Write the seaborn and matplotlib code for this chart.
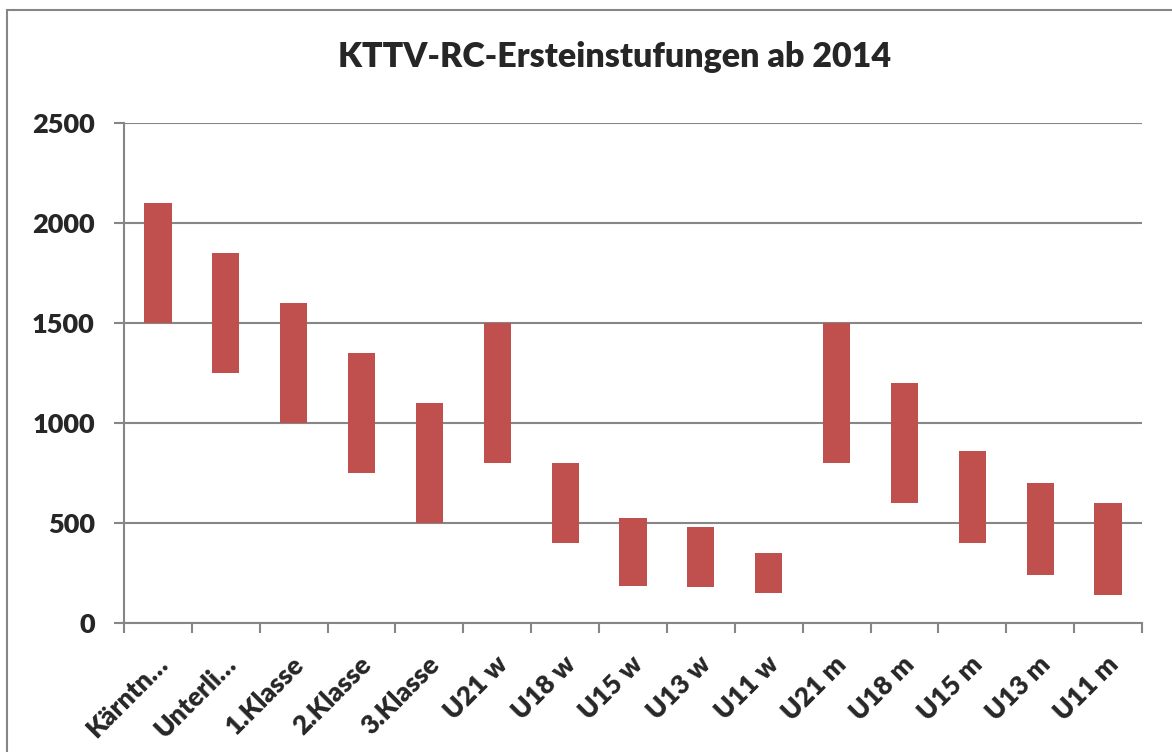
import numpy as np
import matplotlib
matplotlib.use("Agg")
import matplotlib.pyplot as plt
import matplotlib.transforms as mtrans
from matplotlib.patches import Rectangle
import pandas as pd
import seaborn as sns

categories = ["Kärntn…", "Unterli…", "1.Klasse", "2.Klasse", "3.Klasse",
              "U21 w", "U18 w", "U15 w", "U13 w", "U11 w",
              "U21 m", "U18 m", "U15 m", "U13 m", "U11 m"]
low = [1500, 1250, 1000, 750, 500, 800, 400, 185, 180, 150, 800, 600, 400, 240, 140]
high = [2100, 1850, 1600, 1350, 1100, 1500, 800, 525, 480, 350, 1500, 1200, 860, 700, 600]
yticks = [0, 500, 1000, 1500, 2000, 2500]

df = pd.DataFrame({"kat": categories, "low": low, "high": high})
df["span"] = df["high"] - df["low"]

sns.set_style("white")
plt.rcParams["font.family"] = ["Lato", "DejaVu Sans"]
grey = "#868686"

fig = plt.figure(figsize=(11.72, 7.52), dpi=100)
ax = fig.add_axes([124 / 1172, 1 - 623 / 752, (1142 - 124) / 1172, 500 / 752])

sns.barplot(data=df, x="kat", y="span", bottom=df["low"].values, color="#C0504D",
            saturation=1, width=0.4, errorbar=None, linewidth=0, ax=ax)

ax.set_ylim(0, 2500)
ax.set_xlim(-0.5, len(categories) - 0.5)
ax.set_yticks(yticks)
ax.set_yticklabels([str(v) for v in yticks], fontsize=19.5, fontweight="heavy")
ax.yaxis.grid(True, color=grey, linewidth=1.5)
ax.set_axisbelow(True)
ax.set_xlabel("")
ax.set_ylabel("")

for s in ["top", "right"]:
    ax.spines[s].set_visible(False)
for s in ["left", "bottom"]:
    ax.spines[s].set_color(grey)
    ax.spines[s].set_linewidth(1.5)

ax.tick_params(axis="y", direction="out", length=7, width=1.5, color=grey, pad=14, left=True)
ax.set_xticks(np.arange(-0.5, len(categories)), minor=True)
ax.tick_params(axis="x", which="minor", direction="out", length=7, width=1.5, color=grey, bottom=True)
ax.tick_params(axis="x", which="major", length=0, pad=6)
ax.set_xticks(range(len(categories)))
ax.set_xticklabels(categories, fontsize=19, fontweight="heavy", rotation=45,
                   ha="right", va="center", rotation_mode="anchor")
offset = mtrans.ScaledTranslation(6 / 100, -29 / 100, fig.dpi_scale_trans)
for lab in ax.get_xticklabels():
    lab.set_transform(lab.get_transform() + offset)

fig.text(615 / 1172, 1 - 57 / 752, "KTTV-RC-Ersteinstufungen ab 2014",
         ha="center", va="center", fontsize=24.5, fontweight="heavy")

fig.patches.append(Rectangle((7 / 1172, -0.1), 1.2, 742 / 752 + 0.1,
                             transform=fig.transFigure, fill=False,
                             edgecolor=grey, linewidth=1.5))

fig.savefig("out.png", dpi=100)
